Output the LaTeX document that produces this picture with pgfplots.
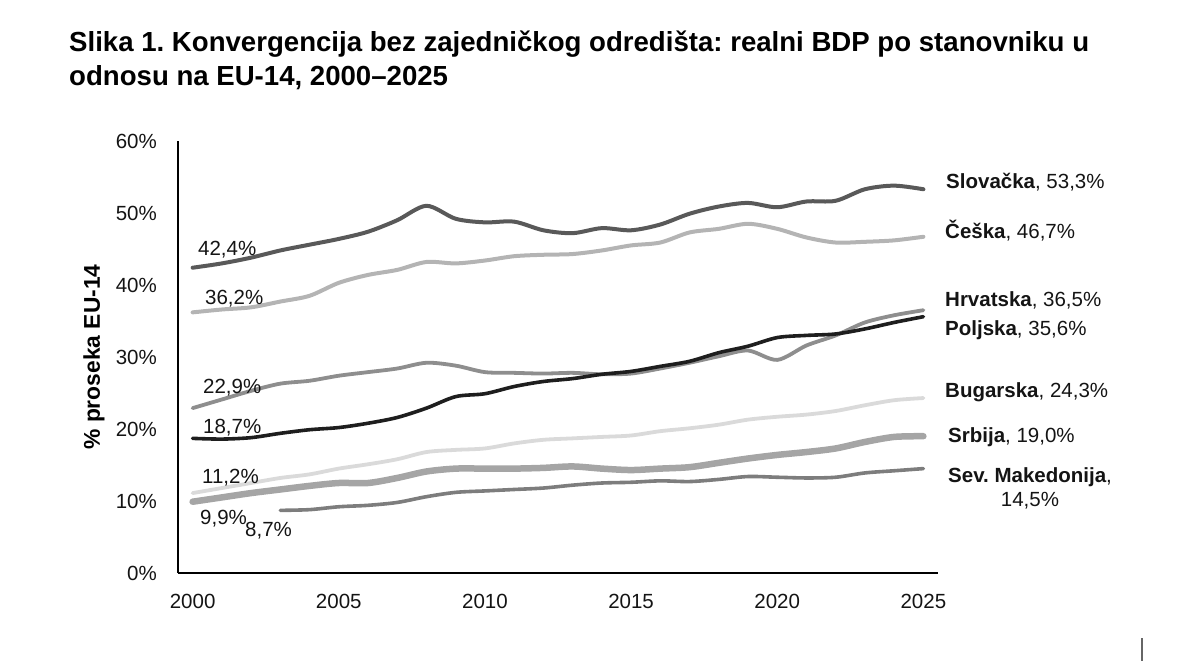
\documentclass[border=0pt]{standalone}
\usepackage{pgfplots}
\usepackage{pgfplotstable}
\pgfplotsset{compat=1.18}
\usepackage{fontspec}
\setmainfont{Liberation Sans}
\frenchspacing

\definecolor{cSK}{HTML}{595959}
\definecolor{cCZ}{HTML}{B4B4B4}
\definecolor{cHR}{HTML}{8E8E8E}
\definecolor{cPL}{HTML}{1E1E1E}
\definecolor{cBG}{HTML}{DADADA}
\definecolor{cRS}{HTML}{A5A5A5}
\definecolor{cMK}{HTML}{7D7D7D}

\pgfplotstableread{
year SK   CZ   HR   PL   BG   RS   MK
2000 42.4 36.2 22.9 18.7 11.1 9.9  nan
2001 43.0 36.6 24.1 18.6 11.8 10.5 nan
2002 43.8 36.9 25.3 18.8 12.5 11.1 nan
2003 44.8 37.7 26.3 19.4 13.2 11.6 8.7
2004 45.6 38.5 26.7 19.9 13.7 12.1 8.8
2005 46.4 40.3 27.4 20.2 14.5 12.5 9.2
2006 47.4 41.4 27.9 20.8 15.1 12.5 9.4
2007 49.0 42.1 28.4 21.6 15.8 13.2 9.8
2008 51.0 43.2 29.2 22.9 16.8 14.1 10.6
2009 49.2 43.0 28.8 24.5 17.1 14.5 11.2
2010 48.7 43.4 27.9 24.9 17.3 14.5 11.4
2011 48.8 44.0 27.8 25.9 18.0 14.5 11.6
2012 47.6 44.2 27.7 26.6 18.5 14.6 11.8
2013 47.2 44.3 27.8 27.0 18.7 14.8 12.2
2014 47.9 44.8 27.6 27.6 18.9 14.5 12.5
2015 47.6 45.5 27.7 28.0 19.1 14.3 12.6
2016 48.4 45.9 28.4 28.7 19.7 14.5 12.8
2017 49.9 47.3 29.2 29.4 20.1 14.7 12.7
2018 50.9 47.8 30.1 30.6 20.6 15.3 13.0
2019 51.4 48.5 30.9 31.5 21.3 15.9 13.4
2020 50.8 47.8 29.6 32.7 21.7 16.4 13.3
2021 51.6 46.6 31.6 33.0 22.0 16.8 13.2
2022 51.7 45.9 33.0 33.2 22.5 17.3 13.3
2023 53.3 46.0 34.8 33.9 23.3 18.2 13.9
2024 53.8 46.2 35.8 34.8 24.0 18.9 14.2
2025 53.3 46.7 36.5 35.6 24.3 19.0 14.5
}\datatable

\begin{document}
\begin{tikzpicture}[x=1pt,y=1pt]
\path[use as bounding box] (0,0) rectangle (1200,-661);
\fontsize{20.5}{24}\selectfont
\begin{axis}[
  at={(178pt,-573pt)}, anchor=south west,
  scale only axis, width=760pt, height=432pt,
  xmin=1999.5, xmax=2025.5, ymin=0, ymax=60,
  axis x line=bottom, axis y line=left,
  axis line style={-, line width=2.2pt, black},
  xtick={2000,2005,2010,2015,2020,2025},
  xticklabels={2000,2005,2010,2015,2020,2025},
  ytick={0,10,20,30,40,50,60},
  yticklabels={0\%,10\%,20\%,30\%,40\%,50\%,60\%},
  major tick length=0pt,
  tick label style={font=\fontsize{20.5}{24}\selectfont, text=black!92},
  xticklabel style={anchor=base, inner sep=0pt, yshift=-35pt},
  yticklabel style={anchor=east, inner sep=0pt, xshift=-21pt},
  ylabel={\textbf{\% proseka EU-14}},
  ylabel style={at={(axis description cs:-0.1105,0.5)}, anchor=center, font=\fontsize{22.8}{26}\selectfont},
  clip=false,
  every axis plot/.append style={smooth, tension=0.5, line cap=round, line join=round},
]
\addplot[color=cBG, line width=3.8pt] table[x=year,y=BG]{\datatable};
\addplot[color=cMK, line width=3.6pt] table[x=year,y=MK]{\datatable};
\addplot[color=cRS, line width=6.5pt] table[x=year,y=RS]{\datatable};
\addplot[color=cCZ, line width=4pt] table[x=year,y=CZ]{\datatable};
\addplot[color=cSK, line width=4pt] table[x=year,y=SK]{\datatable};
\addplot[color=cHR, line width=3.8pt] table[x=year,y=HR]{\datatable};
\addplot[color=cPL, line width=3.6pt] table[x=year,y=PL]{\datatable};
\end{axis}

% title
\node[anchor=base west, inner sep=0pt, font=\fontsize{27.6}{33}\selectfont\bfseries] at (69,-52) {Slika 1. Konvergencija bez zajedničkog odredišta: realni BDP po stanovniku u};
\node[anchor=base west, inner sep=0pt, font=\fontsize{27.6}{33}\selectfont\bfseries] at (69,-85) {odnosu na EU-14, 2000–2025};

% start value labels
\begin{scope}[every node/.style={anchor=base west, inner sep=0pt, text=black!92}]
\node at (198,-255) {42,4\%};
\node at (205,-304) {36,2\%};
\node at (203,-393) {22,9\%};
\node at (203,-433) {18,7\%};
\node at (202,-483) {11,2\%};
\node at (200,-524) {9,9\%};
\node at (245,-536) {8,7\%};
% end labels
\node at (946,-188) {\textbf{Slovačka}, 53,3\%};
\node at (945,-238) {\textbf{Češka}, 46,7\%};
\node at (945,-306) {\textbf{Hrvatska}, 36,5\%};
\node at (945,-335) {\textbf{Poljska}, 35,6\%};
\node at (945,-397) {\textbf{Bugarska}, 24,3\%};
\node at (948,-442) {\textbf{Srbija}, 19,0\%};
\node at (948,-482) {\textbf{Sev. Makedonija},};
\node[anchor=base] at (1030,-506) {14,5\%};
\end{scope}

\draw[line width=1.5pt, black!60] (1142,-638) -- (1142,-661);
\end{tikzpicture}
\end{document}
